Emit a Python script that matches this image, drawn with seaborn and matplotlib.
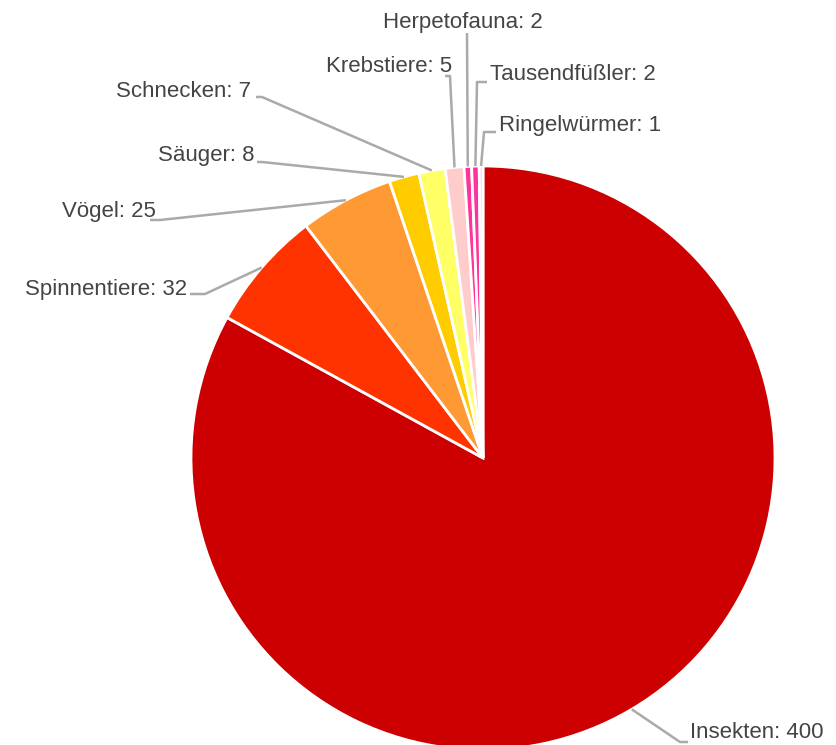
import matplotlib
matplotlib.use("Agg")
import matplotlib.pyplot as plt
import seaborn as sns
import numpy as np

# data
groups = ["Insekten", "Spinnentiere", "Vögel", "Säuger", "Schnecken",
          "Krebstiere", "Herpetofauna", "Tausendfüßler", "Ringelwürmer"]
counts = [400, 32, 25, 8, 7, 5, 2, 2, 1]
colors = ["#cc0000", "#ff3300", "#ff9933", "#ffcc00", "#ffff66",
          "#ffcccc", "#ff3399", "#ff3399", "#ffccff"]

# label layout in pixels: text anchor, ha, va, leader elbows
label_pos = [
    ((690, 733), "left", "center", [(680, 742), (688, 742)]),
    ((187, 289), "right", "center", [(205, 294), (190, 294)]),
    ((156, 211), "right", "center", [(160, 220), (150, 220)]),
    ((255, 155), "right", "center", [(262, 162), (257, 162)]),
    ((251, 91), "right", "center", [(262, 97), (256, 97)]),
    ((452, 66), "right", "center", [(450, 76), (445, 76)]),
    ((463, 22), "center", "center", [(467, 33)]),
    ((490, 74), "left", "center", [(477, 82), (487, 82)]),
    ((499, 125), "left", "center", [(484, 132), (496, 132)]),
]

sns.set_style("white")
plt.rcParams["font.family"] = ["Liberation Sans", "DejaVu Sans"]

W, H = 836, 745
CX, CY, R = 483, 458, 292

def px(p):
    return ((p[0] - CX) / R, (CY - p[1]) / R)

fig = plt.figure(figsize=(W / 100, H / 100), dpi=100)
ax = fig.add_axes([0, 0, 1, 1])

wedges, _ = ax.pie(counts, colors=colors, startangle=90, counterclock=False,
                   radius=1, center=(0, 0),
                   wedgeprops=dict(edgecolor="white", linewidth=2))

for w, name, n, (tpos, ha, va, elbows) in zip(wedges, groups, counts, label_pos):
    ang = np.deg2rad((w.theta1 + w.theta2) / 2)
    pts = [(np.cos(ang) * 1.0, np.sin(ang) * 1.0)] + [px(e) for e in elbows]
    xs, ys = zip(*pts)
    ax.plot(xs, ys, color="#aaaaaa", lw=1.8, solid_capstyle="butt", zorder=1)
    tx, ty = px(tpos)
    ax.text(tx, ty, f"{name}: {n}", ha=ha, va=va, fontsize=16, color="#444444")

ax.set_xlim(-CX / R, (W - CX) / R)
ax.set_ylim(-(H - CY) / R, CY / R)
ax.set_aspect("equal")
ax.axis("off")

fig.savefig("out.png", dpi=100, facecolor="white")
